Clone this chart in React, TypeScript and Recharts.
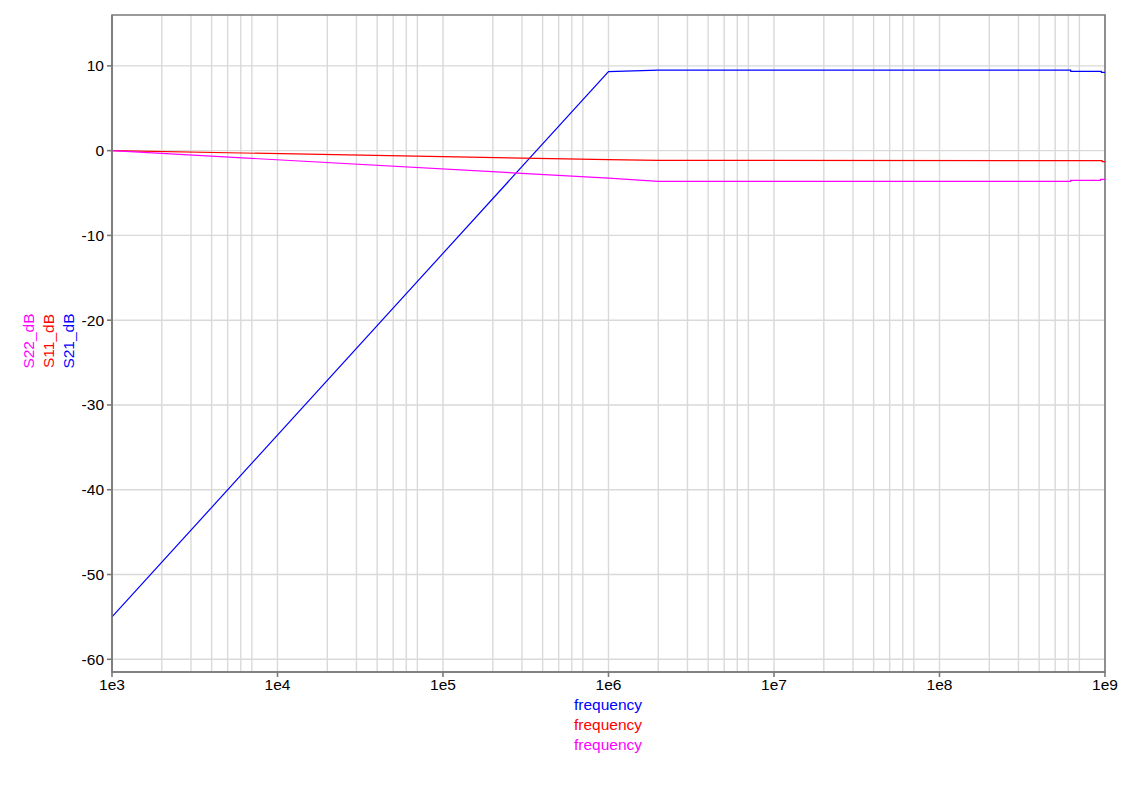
import React from "react";
import { LineChart, Line, XAxis, YAxis, CartesianGrid, ReferenceArea } from "recharts";

// frequency sweep, values (dB)
const s21Freq = [1e3, 1e6, 2e6, 6.2e8, 6.21e8, 9.5e8, 9.51e8, 1e9];
const s21Db = [-55, 9.33, 9.49, 9.49, 9.36, 9.36, 9.24, 9.24];

const s11Freq = [1e3, 1e6, 2e6, 9.6e8, 9.61e8, 1e9];
const s11Db = [0, -1.06, -1.14, -1.18, -1.3, -1.3];

const s22Freq = [1e3, 1e6, 2e6, 6.2e8, 6.21e8, 9.4e8, 9.41e8, 1e9];
const s22Db = [0, -3.24, -3.62, -3.62, -3.5, -3.5, -3.38, -3.38];

const xTicks = [1e3, 1e4, 1e5, 1e6, 1e7, 1e8, 1e9];
const xTickLabels = ["1e3", "1e4", "1e5", "1e6", "1e7", "1e8", "1e9"];
const gridMultipliers = [1, 2, 3, 4, 5, 6, 7, 8, 9];
const yTicks = [-60, -50, -40, -30, -20, -10, 0, 10];

const BLUE = "#0000ff";
const RED = "#ff0000";
const MAGENTA = "#ff00ff";
const AXIS = "#7a7a7a";
const GRID = "#d9d9d9";
const FONT = "'Liberation Sans', Arial, sans-serif";

const toPoints = (xs: number[], ys: number[]) => xs.map((f, i) => ({ f, v: ys[i] }));

const s21 = toPoints(s21Freq, s21Db);
const s11 = toPoints(s11Freq, s11Db);
const s22 = toPoints(s22Freq, s22Db);

const gridX = xTicks.slice(0, -1).flatMap((d) => gridMultipliers.map((m) => d * m)).concat([1e9]);

const yLabels = [
  { text: "S22_dB", color: MAGENTA, x: 21 },
  { text: "S11_dB", color: RED, x: 41 },
  { text: "S21_dB", color: BLUE, x: 61 },
];
const xLabels = [
  { text: "frequency", color: BLUE },
  { text: "frequency", color: RED },
  { text: "frequency", color: MAGENTA },
];

const App: React.FC = () => {
  return (
    <div style={{ position: "relative", width: 1119, height: 777, fontFamily: FONT }}>
      <LineChart width={1119} height={777} margin={{ top: 7, right: 22, left: 44, bottom: 83 }}>
        <CartesianGrid
          stroke={GRID}
          strokeWidth={1.4}
          verticalValues={gridX}
          horizontalValues={yTicks}
        />
        <XAxis
          dataKey="f"
          type="number"
          scale="log"
          domain={[1e3, 1e9]}
          ticks={xTicks}
          allowDataOverflow
          tickFormatter={(v: number) => xTickLabels[xTicks.indexOf(v)] ?? ""}
          stroke={AXIS}
          strokeWidth={1.6}
          tickSize={5}
          tickMargin={2}
          height={30}
          tick={{ fill: "#000", fontSize: 15.5, fontFamily: FONT }}
        />
        <YAxis
          type="number"
          domain={[-61.5, 16]}
          ticks={yTicks}
          allowDataOverflow
          stroke={AXIS}
          strokeWidth={1.6}
          tickSize={5}
          tickMargin={3}
          width={60}
          tick={{ fill: "#000", fontSize: 15.5, fontFamily: FONT }}
        />
        <ReferenceArea x1={1e3} x2={1e9} y1={-61.5} y2={16} fill="none" stroke={AXIS} strokeWidth={1.6} />
        <Line data={s21} dataKey="v" stroke={BLUE} strokeWidth={1.2} dot={false} isAnimationActive={false} />
        <Line data={s11} dataKey="v" stroke={RED} strokeWidth={1.2} dot={false} isAnimationActive={false} />
        <Line data={s22} dataKey="v" stroke={MAGENTA} strokeWidth={1.2} dot={false} isAnimationActive={false} />
      </LineChart>
      {yLabels.map((l) => (
        <div
          key={l.text}
          style={{
            position: "absolute",
            left: l.x - 40,
            top: 333 - 10,
            width: 80,
            textAlign: "center",
            transform: "rotate(-90deg)",
            color: l.color,
            fontSize: 15.5,
            lineHeight: "20px",
          }}
        >
          {l.text}
        </div>
      ))}
      {xLabels.map((l, i) => (
        <div
          key={l.color}
          style={{
            position: "absolute",
            left: 600 - 60,
            top: 687 + i * 20,
            width: 120,
            textAlign: "center",
            color: l.color,
            fontSize: 15.5,
            lineHeight: "20px",
          }}
        >
          {l.text}
        </div>
      ))}
    </div>
  );
};

export default App;
